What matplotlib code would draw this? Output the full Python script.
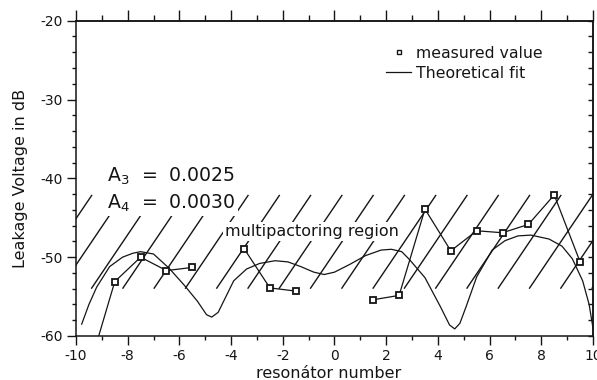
import numpy as np
import matplotlib.pyplot as plt
from matplotlib.lines import Line2D

plt.rcParams.update({
    "font.family": "DejaVu Sans",
    "axes.unicode_minus": False,
    "mathtext.default": "regular",
})

# measured leakage voltage per resonator, split where no value was measured
res_left = [-9.5, -8.5, -7.5, -6.5, -5.5]
meas_left = [-64.2, -53.1, -50.0, -51.7, -51.3]
res_mid = [-3.5, -2.5, -1.5]
meas_mid = [-48.9, -53.9, -54.3]
res_right = [1.5, 2.5, 3.5, 4.5, 5.5, 6.5, 7.5, 8.5, 9.5]
meas_right = [-55.4, -54.85, -43.9, -49.2, -46.65, -46.9, -45.85, -42.1, -50.6]

# theoretical fit
fit_x = [-9.78, -9.5, -9.2, -8.7, -8.2, -7.8, -7.5, -7.0, -6.4, -5.8, -5.3,
         -4.95, -4.75, -4.5, -4.2, -3.9, -3.4, -2.9, -2.3, -1.8, -1.3, -0.8,
         -0.4, 0.0, 0.6, 1.2, 1.8, 2.2, 2.6, 2.9, 3.5, 4.1, 4.45, 4.65, 4.85,
         5.1, 5.5, 6.1, 6.6, 7.1, 7.6, 8.3, 8.8, 9.2, 9.6, 9.85, 10.0]
fit_y = [-58.5, -56.0, -53.8, -51.2, -50.0, -49.5, -49.3, -49.6, -51.4, -53.6,
         -55.6, -57.3, -57.6, -57.0, -55.0, -53.0, -51.5, -50.8, -50.45, -50.6,
         -51.2, -51.9, -52.2, -51.9, -50.9, -49.8, -49.1, -49.0, -49.3, -50.3,
         -52.6, -56.3, -58.6, -59.1, -58.4, -56.2, -52.5, -49.1, -47.9, -47.3,
         -47.2, -47.7, -48.6, -50.2, -53.0, -56.0, -59.0]

# multipactoring band (dB)
mp_low = -54.0
mp_high = -42.1

x_ticks = [-10, -8, -6, -4, -2, 0, 2, 4, 6, 8, 10]
y_ticks = [-60, -50, -40, -30, -20]

ink = "#151515"

fig = plt.figure(figsize=(5.97, 3.80), dpi=100)
ax = fig.add_axes([0.1273, 0.1158, 0.866, 0.8297])

# hatch lines of the multipactoring region
hatch_dx = 2.45
for xb in np.arange(-13.04, 10.0, 1.21):
    ax.plot([xb, xb + hatch_dx], [mp_low, mp_high], color=ink, lw=1.0,
            solid_capstyle="butt", zorder=1)

ax.plot(fit_x, fit_y, color=ink, lw=0.9, zorder=2)

for xs, ys in [(res_left, meas_left), (res_mid, meas_mid),
               (res_right, meas_right)]:
    ax.plot(xs, ys, color=ink, lw=0.9, marker="s", markersize=5,
            markerfacecolor="white", markeredgecolor=ink,
            markeredgewidth=1.3, zorder=3)

box = dict(facecolor="white", edgecolor="none", pad=1.5)
ax.text(-8.8, -40.43, "A$_3$  =  0.0025", fontsize=13.6, color=ink,
        va="baseline", ha="left", bbox=box, zorder=4)
ax.text(-8.8, -43.8, "A$_4$  =  0.0030", fontsize=13.6, color=ink,
        va="baseline", ha="left", bbox=box, zorder=4)
ax.text(-4.24, -47.3, "multipactoring region", fontsize=11.5, color=ink,
        va="baseline", ha="left", bbox=box, zorder=4)

handles = [
    Line2D([], [], ls="none", marker="s", markersize=3.5,
           markerfacecolor="white", markeredgecolor=ink, markeredgewidth=1.0),
    Line2D([], [], color=ink, lw=0.9),
]
ax.legend(handles, ["measured value", "Theoretical fit"], loc="upper left",
          bbox_to_anchor=(0.60, 0.92), frameon=False, fontsize=11.3,
          handlelength=1.6, handletextpad=0.3, borderpad=0,
          borderaxespad=0, labelspacing=0.3, labelcolor=ink)

ax.set_xlim(-10, 10)
ax.set_ylim(-60, -20)
ax.set_xticks(x_ticks)
ax.set_xticks(np.arange(-9, 10, 2), minor=True)
ax.set_yticks(y_ticks)
ax.set_yticks(np.arange(-58, -20, 2), minor=True)
ax.tick_params(axis="both", which="major", direction="out", length=6.5,
               width=1.0, color=ink, labelsize=10, labelcolor=ink, pad=3)
ax.tick_params(axis="both", which="minor", direction="out", length=3.2,
               width=1.0, color=ink)
ax.tick_params(top=False, right=False, which="both")

top = ax.secondary_xaxis("top")
top.set_xticks(x_ticks)
top.set_xticks(np.arange(-9, 10, 2), minor=True)
top.tick_params(which="major", direction="out", length=8, width=1.0,
                color=ink, labeltop=False)
top.tick_params(which="minor", direction="out", length=4, width=1.0,
                color=ink)

right = ax.secondary_yaxis("right")
right.set_yticks(np.arange(-60, -19, 2))
right.tick_params(which="major", direction="in", length=3.5, width=1.0,
                  color=ink, labelright=False)

for sp in list(ax.spines.values()) + [top.spines["top"], right.spines["right"]]:
    sp.set_linewidth(1.1)
    sp.set_color(ink)

ax.set_xlabel("resonátor number", fontsize=11.5, color=ink)
ax.xaxis.set_label_coords(0.488, -0.095)
ax.set_ylabel("Leakage Voltage in dB", fontsize=11.5, color=ink)
ax.yaxis.set_label_coords(-0.093, 0.5)

fig.savefig("out.png", dpi=100, facecolor="white")
